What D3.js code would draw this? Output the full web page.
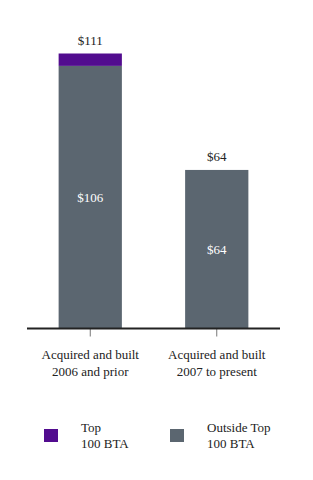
<!DOCTYPE html>
<html><head><meta charset="utf-8">
<script src="https://cdn.jsdelivr.net/npm/d3@7"></script>
<style>body{margin:0;background:#fff}svg{display:block}text{font-family:"Liberation Serif","Times New Roman",serif}</style>
</head><body><div id="chart"></div>
<script>
const categories = [["Acquired and built","2006 and prior"],["Acquired and built","2007 to present"]];
const seriesNames = [["Top","100 BTA"],["Outside Top","100 BTA"]];
const outsideTop = [106, 64];
const top100 = [5, 0];
const totals = [111, 64];
const colors = ["#520c8f", "#5b6670"];

const W = 313, H = 480;
const svg = d3.select("#chart").append("svg").attr("width", W).attr("height", H);
const baseY = 328.5;
const x = d3.scaleBand().domain(d3.range(categories.length)).range([27, 280]).paddingInner(0.5).paddingOuter(0.25);
const y = d3.scaleLinear().domain([0, 111]).range([baseY, 53.5]);

const data = categories.map((c, i) => ({i, out: outsideTop[i], top: top100[i], total: totals[i]}));
const stack = d3.stack().keys(["out", "top"])(data);
const keyColor = {out: colors[1], top: colors[0]};

svg.selectAll("g.layer").data(stack).join("g").attr("class", "layer")
  .attr("fill", d => keyColor[d.key])
  .selectAll("rect").data(d => d.filter(p => p[1] > p[0])).join("rect")
  .attr("x", d => x(d.data.i)).attr("width", x.bandwidth())
  .attr("y", d => y(d[1])).attr("height", d => y(d[0]) - y(d[1]));

// inside labels
svg.selectAll("text.in").data(data).join("text").attr("class", "in")
  .attr("x", d => x(d.i) + x.bandwidth() / 2)
  .attr("y", d => (y(0) + y(d.out)) / 2 + 4.5)
  .attr("text-anchor", "middle").attr("fill", "#fff").attr("font-size", 13)
  .text(d => "$" + d.out);
// totals
svg.selectAll("text.tot").data(data).join("text").attr("class", "tot")
  .attr("x", d => x(d.i) + x.bandwidth() / 2)
  .attr("y", d => y(d.total) - 9)
  .attr("text-anchor", "middle").attr("fill", "#222").attr("font-size", 13)
  .text(d => "$" + d.total);

// axis
const axis = d3.axisBottom(x).tickSize(8).tickFormat("");
const ag = svg.append("g").attr("transform", `translate(0,${baseY})`).call(axis);
ag.select(".domain").remove();
ag.selectAll(".tick line").attr("stroke", "#777").attr("stroke-width", 1);
svg.append("line").attr("x1", 27).attr("x2", 280).attr("y1", baseY).attr("y2", baseY)
  .attr("stroke", "#222").attr("stroke-width", 2);

categories.forEach((c, i) => {
  const t = svg.append("text").attr("x", x(i) + x.bandwidth() / 2).attr("y", 359)
    .attr("text-anchor", "middle").attr("font-size", 13).attr("fill", "#222");
  c.forEach((line, j) => t.append("tspan").attr("x", x(i) + x.bandwidth() / 2).attr("dy", j ? 16.5 : 0).text(line));
});

// legend
const lx = [44, 170];
seriesNames.forEach((s, i) => {
  svg.append("rect").attr("x", lx[i]).attr("y", 429).attr("width", 14).attr("height", 13).attr("fill", colors[i]);
  const t = svg.append("text").attr("x", lx[i] + 37).attr("y", 432).attr("font-size", 13).attr("fill", "#222");
  s.forEach((line, j) => t.append("tspan").attr("x", lx[i] + 37).attr("dy", j ? 15.5 : 0).text(line));
});
</script></body></html>
